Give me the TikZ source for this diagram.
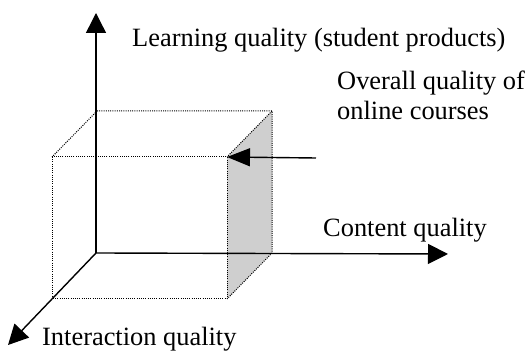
\documentclass[tikz,border=0pt]{standalone}
\usepackage{fontspec}
\setmainfont{Liberation Serif}
\usetikzlibrary{arrows.meta}
\begin{document}
\begin{tikzpicture}[x=1pt,y=-1pt,
  axis/.style={line width=1.4pt,-{Triangle[length=20pt,width=20pt]}},
  pointer/.style={line width=1.4pt,-{Triangle[length=23pt,width=18pt]}},
  edge/.style={line width=1pt,dash pattern=on 1pt off 1.2pt},
  label/.style={anchor=base west,inner sep=0pt,font=\fontsize{26.4}{30}\selectfont,align=left}]
\useasboundingbox (0,0) rectangle (528,352);
% corners of the box
\coordinate (O) at (96,253);
\coordinate (BT) at (97,111);
\coordinate (BTR) at (272,111);
\coordinate (BBR) at (272,253);
\coordinate (FTL) at (52,157);
\coordinate (FTR) at (227,157);
\coordinate (FBR) at (227,299);
\coordinate (FBL) at (52,299);
% axis tips
\coordinate (Y) at (96,13);
\coordinate (X) at (448,254);
\coordinate (Z) at (8,345);
% shaded side face
\fill[gray!38] (FTR) -- (BTR) -- (BBR) -- (FBR) -- cycle;
% dotted box edges
\draw[edge] (FTL) rectangle (FBR);
\draw[edge] (BT) -- (BTR) -- (BBR) -- (FBR);
\draw[edge] (BT) -- (FTL);
\draw[edge] (BTR) -- (FTR);
% axes
\draw[axis] (O) -- (Y);
\draw[axis] (O) -- (X);
\draw[axis] (O) -- (Z);
% labels
\node[label] (ly) at (132,47) {Learning quality (student products)};
\node[label] (lx) at (323,237) {Content quality};
\node[label] (lz) at (42,345.5) {Interaction quality};
\node[label] (lo) at (337,120) {Overall quality of\\online courses};
\coordinate (P) at (316,158);
\draw[pointer] (P) -- (FTR);
\end{tikzpicture}
\end{document}
